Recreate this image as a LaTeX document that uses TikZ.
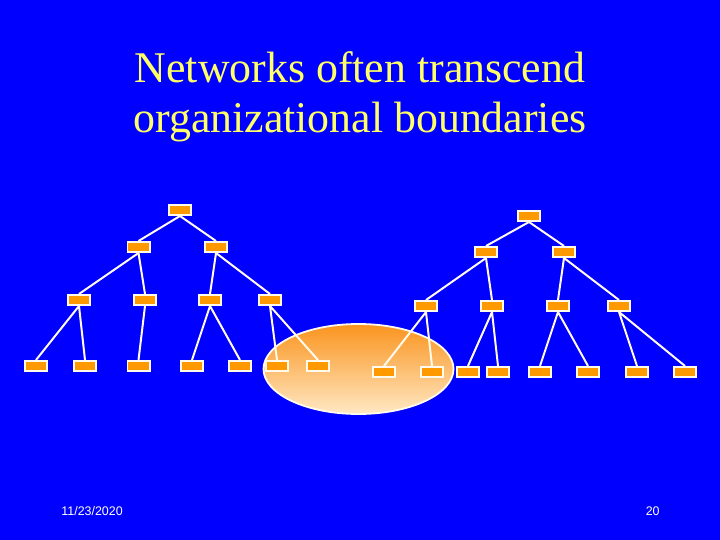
\documentclass[tikz,border=0pt]{standalone}
\usepackage{fontspec}
\setmainfont{Liberation Serif}
\newfontfamily\footfont{Liberation Sans}

\tikzset{every picture/.style={line width=0.75pt}}
\tikzset{
  unit/.style={draw={rgb,255:red,255;green,250;blue,235}, line width=1.8bp, fill={rgb,255:red,255;green,153;blue,0}, inner sep=0pt, minimum width=22.2bp, minimum height=10.2bp},
  tie/.style={draw={rgb,255:red,255;green,250;blue,235}, line width=2bp},
}

\begin{document}
\begin{tikzpicture}[x=1bp,y=1bp,yscale=-1,xscale=1]
%Shape: Background
\fill [color={rgb, 255:red, 0; green, 0; blue, 255 }] (0,0) rectangle (720,540) ;
\useasboundingbox (0,0) rectangle (720,540) ;

%Shape: Ellipse
\draw [draw={rgb, 255:red, 255; green, 250; blue, 235 }, line width=1.8bp, top color={rgb, 255:red, 250; green, 148; blue, 30 }, bottom color={rgb, 255:red, 255; green, 232; blue, 196 }] (358.5,369) ellipse (95 and 45) ;

% Text Node
\node (title1) at (360,83) [anchor=base, inner sep=0pt, text={rgb,255:red,255;green,255;blue,102}, font=\fontsize{44}{50}\selectfont] {Networks often transcend};
% Text Node
\node (title2) at (360,133) [anchor=base, inner sep=0pt, text={rgb,255:red,255;green,255;blue,102}, font=\fontsize{44}{50}\selectfont] {organizational boundaries};

%Left tree
\node [unit] (lt) at (180,210) {};
\node [unit] (la1) at (138.5,247) {};
\node [unit] (la2) at (216,247) {};
\node [unit] (lb1) at (79,300) {};
\node [unit] (lb2) at (145,300) {};
\node [unit] (lb3) at (210,300) {};
\node [unit] (lb4) at (270,300) {};
\node [unit] (lc1) at (36,366) {};
\node [unit] (lc2) at (85,366) {};
\node [unit] (lc3) at (138.5,366) {};
\node [unit] (lc4) at (192,366) {};
\node [unit] (lc5) at (240,366) {};
\node [unit] (lc6) at (277,366) {};
\node [unit] (lc7) at (318,366) {};

%Right tree
\node [unit] (rt) at (529,216) {};
\node [unit] (ra1) at (486,252) {};
\node [unit] (ra2) at (564,252) {};
\node [unit] (rb1) at (426,306) {};
\node [unit] (rb2) at (492,306) {};
\node [unit] (rb3) at (558,306) {};
\node [unit] (rb4) at (619,306) {};
\node [unit] (rc1) at (384,372) {};
\node [unit] (rc2) at (432,372) {};
\node [unit] (rc3) at (468,372) {};
\node [unit] (rc4) at (498,372) {};
\node [unit] (rc5) at (540,372) {};
\node [unit] (rc6) at (588,372) {};
\node [unit] (rc7) at (637,372) {};
\node [unit] (rc8) at (685,372) {};

%Straight Lines
\draw [tie] (lt.south) -- (la1.north) (lt.south) -- (la2.north) ;
\draw [tie] (la1.south) -- (lb1.north) (la1.south) -- (lb2.north) ;
\draw [tie] (la2.south) -- (lb3.north) (la2.south) -- (lb4.north) ;
\draw [tie] (lb1.south) -- (lc1.north) (lb1.south) -- (lc2.north) ;
\draw [tie] (lb2.south) -- (lc3.north) ;
\draw [tie] (lb3.south) -- (lc4.north) (lb3.south) -- (lc5.north) ;
\draw [tie] (lb4.south) -- (lc6.north) (lb4.south) -- (lc7.north) ;
\draw [tie] (rt.south) -- (ra1.north) (rt.south) -- (ra2.north) ;
\draw [tie] (ra1.south) -- (rb1.north) (ra1.south) -- (rb2.north) ;
\draw [tie] (ra2.south) -- (rb3.north) (ra2.south) -- (rb4.north) ;
\draw [tie] (rb1.south) -- (rc1.north) (rb1.south) -- (rc2.north) ;
\draw [tie] (rb2.south) -- (rc3.north) (rb2.south) -- (rc4.north) ;
\draw [tie] (rb3.south) -- (rc5.north) (rb3.south) -- (rc6.north) ;
\draw [tie] (rb4.south) -- (rc7.north) (rb4.south) -- (rc8.north) ;

% Text Node
\node (date) at (61,515) [anchor=base west, inner sep=0pt, text=white, font=\footfont\fontsize{12.5}{14}\selectfont] {11/23/2020};
% Text Node
\node (page) at (660,515) [anchor=base east, inner sep=0pt, text=white, font=\footfont\fontsize{12.5}{14}\selectfont] {20};

\end{tikzpicture}
\end{document}
